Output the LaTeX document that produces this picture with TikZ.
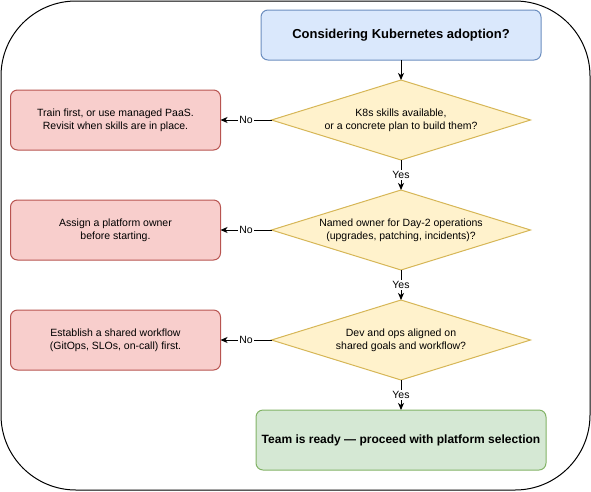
\documentclass[tikz,border=0pt]{standalone}
\usepackage{fontspec}
\setmainfont{Liberation Sans}
\usetikzlibrary{shapes.geometric,arrows.meta,positioning}
\definecolor{startfill}{HTML}{DAE8FC}
\definecolor{startdraw}{HTML}{6C8EBF}
\definecolor{askfill}{HTML}{FFF2CC}
\definecolor{askdraw}{HTML}{D6B656}
\definecolor{stopfill}{HTML}{F8CECC}
\definecolor{stopdraw}{HTML}{B85450}
\definecolor{gofill}{HTML}{D5E8D4}
\definecolor{godraw}{HTML}{82B366}

\begin{document}
\begin{tikzpicture}[
    x=1pt, y=1pt,
    >={Stealth[length=7pt,width=6pt,inset=2pt]},
    every node/.style={font=\fontsize{10.5}{13}\selectfont, outer sep=0pt},
    startnode/.style={rectangle, draw=startdraw, fill=startfill, rounded corners=7pt, align=center, minimum width=280pt, minimum height=50pt, line width=1pt, font=\fontsize{13}{15}\selectfont\bfseries},
    asknode/.style={diamond, aspect=3.24, draw=askdraw, fill=askfill, align=center, inner sep=0pt, minimum width=259pt, minimum height=80pt, line width=1pt},
    stopnode/.style={rectangle, draw=stopdraw, fill=stopfill, rounded corners=7pt, align=center, minimum width=210pt, minimum height=60pt, line width=1pt},
    gonode/.style={rectangle, draw=godraw, fill=gofill, rounded corners=7pt, align=center, minimum width=290pt, minimum height=60pt, line width=1pt, font=\fontsize{12}{15}\selectfont\bfseries},
    flow/.style={->, line width=1pt},
    answer/.style={fill=white, inner sep=1.5pt, font=\fontsize{10.5}{13}\selectfont}
]
    \useasboundingbox (0,0) rectangle (591,-491);
    % outer frame
    \draw[line width=1pt, rounded corners=75pt] (1,-1) rectangle (590,-490);

    \node (start) [startnode] at (401,-35) {Considering Kubernetes adoption?};
    \node (skills) [asknode, below=20pt of start] {K8s skills available,\\or a concrete plan to build them?};
    \node (owner) [asknode, below=30pt of skills] {Named owner for Day-2 operations\\(upgrades, patching, incidents)?};
    \node (aligned) [asknode, below=30pt of owner] {Dev and ops aligned on\\shared goals and workflow?};
    \node (ready) [gonode, below=30pt of aligned] {Team is ready --- proceed with platform selection};

    \node (train) [stopnode, left=51pt of skills] {Train first, or use managed PaaS.\\Revisit when skills are in place.};
    \node (assign) [stopnode, left=51pt of owner] {Assign a platform owner\\before starting.};
    \node (workflow) [stopnode, left=51pt of aligned] {Establish a shared workflow\\(GitOps, SLOs, on-call) first.};

    \draw[flow] (start) -- (skills);
    \draw[flow] (skills) -- node[answer] {Yes} (owner);
    \draw[flow] (owner) -- node[answer] {Yes} (aligned);
    \draw[flow] (aligned) -- node[answer] {Yes} (ready);
    \draw[flow] (skills) -- node[answer] {No} (train);
    \draw[flow] (owner) -- node[answer] {No} (assign);
    \draw[flow] (aligned) -- node[answer] {No} (workflow);

\end{tikzpicture}
\end{document}
